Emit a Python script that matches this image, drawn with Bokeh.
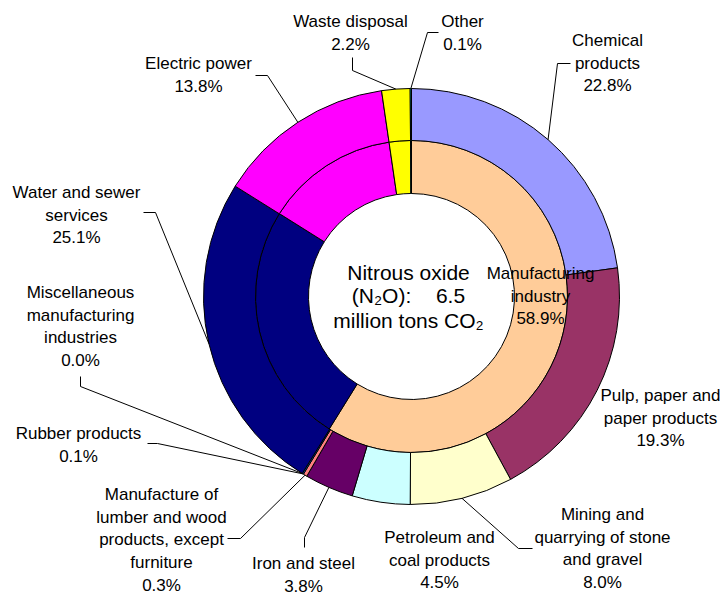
import math
from bokeh.plotting import figure
from bokeh.models import Range1d
from bokeh.core.properties import value
from bokeh.embed import file_html
from bokeh.resources import INLINE

# ---------------- data ----------------
outer_labels = ["Chemical products", "Pulp, paper and paper products",
                "Mining and quarrying of stone and gravel", "Petroleum and coal products",
                "Iron and steel", "Manufacture of lumber and wood products, except furniture",
                "Rubber products", "Miscellaneous manufacturing industries",
                "Water and sewer services", "Electric power", "Waste disposal", "Other"]
outer_values = [22.8, 19.3, 8.0, 4.5, 3.8, 0.3, 0.1, 0.0, 25.1, 13.8, 2.2, 0.1]
outer_colors = ["#9999FF", "#993366", "#FFFFCC", "#CCFFFF", "#660066", "#FF8080",
                "#0066CC", "#CCCCFF", "#000080", "#FF00FF", "#FFFF00", "#00FFFF"]

inner_labels = ["Manufacturing industry", "Water and sewer services", "Electric power",
                "Waste disposal", "Other"]
inner_values = [58.9, 25.1, 13.8, 2.2, 0.1]
inner_colors = ["#FFCC99", "#000080", "#FF00FF", "#FFFF00", "#00FFFF"]

center_title = ["Nitrous oxide", "(N₂O):", "6.5", "million tons CO₂"]

# ---------------- layout (picture pixel coords) ----------------
W, H = 724, 598
CX, CY = 411, 296
R_IN, R_MID, R_OUT = 103, 156, 208
LH = 22.7
FONT = value("Liberation Sans")
LABEL_SIZE = value("17px")
CENTER_SIZE = value("21px")

# label: wrapped lines, center x, first-line y, leader elbow points (from label toward ring)
label_layout = {
    "Chemical products": (["Chemical", "products"], 607, 40, [(570, 63), (557, 63)]),
    "Pulp, paper and paper products": (["Pulp, paper and", "paper products"], 660, 395, None),
    "Mining and quarrying of stone and gravel": (["Mining and", "quarrying of stone", "and gravel"], 602, 514, [(532, 548), (518, 548)]),
    "Petroleum and coal products": (["Petroleum and", "coal products"], 439, 537, None),
    "Iron and steel": (["Iron and steel"], 303, 563, [(304, 547), (304, 537)]),
    "Manufacture of lumber and wood products, except furniture": (["Manufacture of", "lumber and wood", "products, except", "furniture"], 161, 494, [(227, 538), (240, 538)]),
    "Rubber products": (["Rubber products"], 78, 433, [(147, 443), (157, 443)]),
    "Miscellaneous manufacturing industries": (["Miscellaneous", "manufacturing", "industries"], 80, 292, [(80, 376), (80, 386)]),
    "Water and sewer services": (["Water and sewer", "services"], 76, 192, [(143, 212), (155, 212)]),
    "Electric power": (["Electric power"], 198, 63, [(255, 75), (267, 75)]),
    "Waste disposal": (["Waste disposal"], 350, 21, [(352, 57), (352, 70)]),
    "Other": (["Other"], 462, 21, [(438, 32), (427, 32)]),
}
inner_label_layout = {"Manufacturing industry": (["Manufacturing", "industry"], 540, 273)}


def wx(X):
    return X - CX


def wy(Y):
    return CY - Y


def ring(values):
    tot = float(sum(values))
    cum = 0.0
    s, e, m = [], [], []
    for v in values:
        a0 = math.pi / 2 - 2 * math.pi * cum / tot
        cum += v
        a1 = math.pi / 2 - 2 * math.pi * cum / tot
        s.append(a0)
        e.append(a1)
        m.append((a0 + a1) / 2)
    return s, e, m


p = figure(width=W, height=H,
           x_range=Range1d(0 - CX, W - CX), y_range=Range1d(CY - H, CY),
           output_backend="svg", toolbar_location=None,
           x_axis_location=None, y_axis_location=None, min_border=0,
           outline_line_color=None)
p.grid.visible = False

for vals, cols, r0, r1 in ((inner_values, inner_colors, R_IN, R_MID),
                           (outer_values, outer_colors, R_MID, R_OUT)):
    s, e, m = ring(vals)
    keep = [i for i, v in enumerate(vals) if v > 0]
    p.annular_wedge(x=0, y=0, inner_radius=r0, outer_radius=r1,
                    start_angle=[s[i] for i in keep], end_angle=[e[i] for i in keep],
                    direction="clock", fill_color=[cols[i] for i in keep],
                    line_color="black", line_width=1)

# leader lines and labels for the outer ring
so, eo, mo = ring(outer_values)
xs, ys = [], []
tx, ty, tt = [], [], []
for name, v, mid in zip(outer_labels, outer_values, mo):
    lines, cx, y0, elbow = label_layout[name]
    lines = lines + ["%.1f%%" % v]
    for k, t in enumerate(lines):
        tx.append(wx(cx))
        ty.append(wy(y0 + k * LH))
        tt.append(t)
    if elbow:
        px = [wx(a) for a, b in elbow] + [R_OUT * math.cos(mid)]
        py = [wy(b) for a, b in elbow] + [R_OUT * math.sin(mid)]
        xs.append(px)
        ys.append(py)

for name, v in zip(inner_labels, inner_values):
    if name in inner_label_layout:
        lines, cx, y0 = inner_label_layout[name]
        lines = lines + ["%.1f%%" % v]
        for k, t in enumerate(lines):
            tx.append(wx(cx))
            ty.append(wy(y0 + k * LH))
            tt.append(t)

p.multi_line(xs=xs, ys=ys, line_color="black", line_width=1)
p.text(x=tx, y=ty, text=tt, text_align="center", text_baseline="middle",
       text_font=FONT, text_font_size=LABEL_SIZE, text_color="black")

# center title
ctx = [408, 381, 450, 408]
cty = [272, 295, 295, 320]
p.text(x=[wx(a) for a in ctx], y=[wy(b) for b in cty], text=center_title,
       text_align="center", text_baseline="middle",
       text_font=FONT, text_font_size=CENTER_SIZE, text_color="black")

open("out.html", "w").write(file_html(p, INLINE))
